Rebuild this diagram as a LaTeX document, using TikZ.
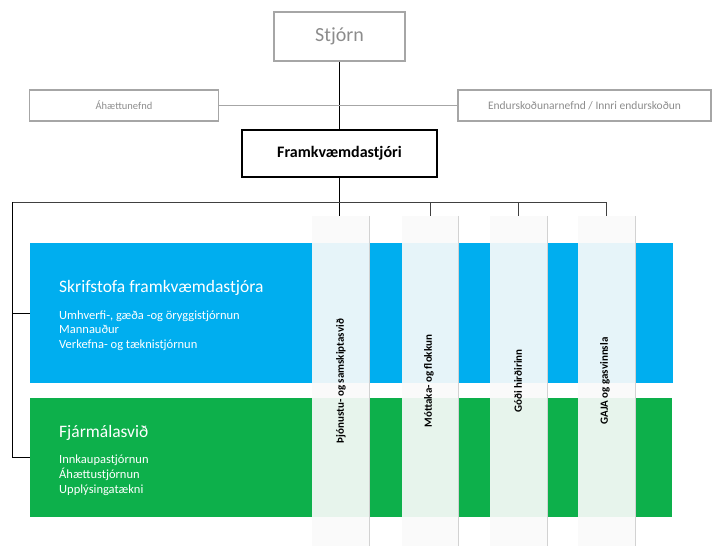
\documentclass[tikz,border=0pt]{standalone}
\usepackage{fontspec}
\setmainfont{Carlito}
\usepackage{xcolor}
\usepackage{tikz}
\usetikzlibrary{positioning}
\definecolor{skrblue}{RGB}{0,174,239}
\definecolor{fjgreen}{RGB}{13,176,75}
\definecolor{boxgray}{RGB}{166,166,166}
\definecolor{txtgray}{RGB}{140,140,140}
\tikzset{every node/.style={align=left}}

\begin{document}
\begin{tikzpicture}[x=1pt,y=-1pt,
    graybox/.style={draw=boxgray,line width=1.2pt,text=txtgray,align=center},
    chiefbox/.style={draw=black,line width=1.6pt,align=center,font=\bfseries\fontsize{16}{19}\selectfont},
    conn/.style={line width=0.8pt},
    bus/.style={line width=0.8pt,draw=black!75},
    colband/.style={fill=gray!4,fill opacity=0.92,text opacity=1,draw=none,minimum width=57,minimum height=330,inner sep=0pt},
    collbl/.style={font=\bfseries\fontsize{11}{13}\selectfont,rotate=90,align=center},
    shadowline/.style={draw=gray!35,line width=1.4pt},
    unittitle/.style={text=white,anchor=base west,font=\fontsize{17.5}{20}\selectfont,inner sep=0pt},
    unitsub/.style={text=white,anchor=base west,font=\fontsize{12.5}{14.7}\selectfont,inner sep=0pt}
]
  \useasboundingbox (0,0) rectangle (712,546);

  % top of the chart
  \node (stjorn) at (339.5,36.5) [graybox, minimum width=131, minimum height=49, font=\fontsize{20}{24}\selectfont] {Stjórn};
  \node (ahaetta) at (124,105.5) [graybox, minimum width=189, minimum height=31, font=\fontsize{10.5}{12}\selectfont] {Áhættunefnd};
  \node (endur) at (584.5,105.5) [graybox, minimum width=253, minimum height=31, font=\fontsize{11.5}{13}\selectfont] {Endurskoðunarnefnd / Innri endurskoðun};
  \node (fram) at (339.5,153.5) [chiefbox, minimum width=195, minimum height=47] {Framkvæmdastjóri};

  % units
  \node (skr) at (351.5,313) [fill=skrblue, minimum width=643, minimum height=140, inner sep=0pt] {};
  \node (fjarm) at (351,457.5) [fill=fjgreen, minimum width=642, minimum height=119, inner sep=0pt] {};

  % base of the last line of each block is given
  \node (skrtitle) at (59,292) [unittitle] {Skrifstofa framkvæmdastjóra};
  \node (skrsub) at (59,348.5) [unitsub] {Umhverfi-, gæða -og öryggistjórnun\\Mannauður\\Verkefna- og tæknistjórnun};
  \node (fjtitle) at (59,437) [unittitle] {Fjármálasvið};
  \node (fjsub) at (59,493) [unitsub] {Innkaupastjórnun\\Áhættustjórnun\\Upplýsingatækni};

  % vertical bands
  \node (col1) at (340.5,381) [colband] {};
  \node (col2) at (430,381)   [colband] {};
  \node (col3) at (518.5,381) [colband] {};
  \node (col4) at (606.5,381) [colband] {};
  \foreach \c in {col1,col2,col3,col4}
      \draw[shadowline] (\c.north east) -- (\c.south east);

  \node (lbl1) at (341,381) [collbl] {Þjónustu- og samskiptasvið};
  \node (lbl2) at (429,381) [collbl] {Móttaka- og flokkun};
  \node (lbl3) at (518,381) [collbl] {Góði hirðirinn};
  \node (lbl4) at (605,381) [collbl] {GAJA og gasvinnsla};

  % connectors
  \draw[conn] (stjorn) -- (fram);
  \draw[draw=boxgray,line width=1.5pt] (ahaetta.east) -- (endur.west);
  \coordinate (busL) at (12,202);
  \draw[conn] (fram.south) -- (fram.south |- col1.north);
  \draw[bus] (busL) -- (busL -| col4.north);
  \foreach \c in {col2,col3,col4}
      \draw[bus] (\c.north |- busL) -- (\c.north);
  \draw[conn] (busL) |- (skr.west);
  \draw[conn] (busL) |- (fjarm.west);
\end{tikzpicture}
\end{document}
